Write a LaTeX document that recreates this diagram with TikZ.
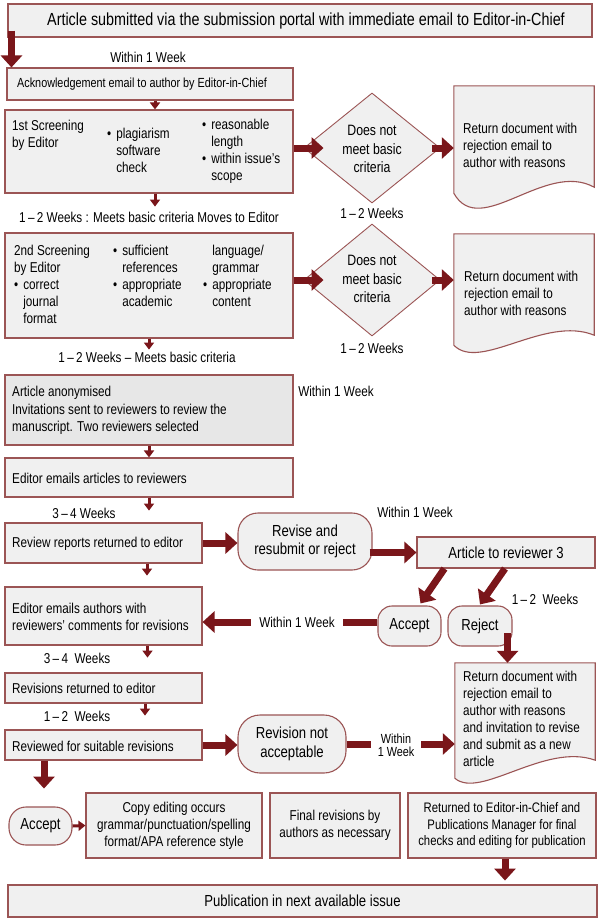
\documentclass[tikz,border=0pt]{standalone}
\usepackage{fontspec}
\setmainfont[FakeStretch=0.82]{Liberation Sans}
\usetikzlibrary{arrows.meta,shapes.geometric,calc}
\definecolor{bd}{RGB}{155,85,85}
\definecolor{ar}{RGB}{122,22,26}
\definecolor{bx}{RGB}{240,240,240}
\definecolor{bxd}{RGB}{231,231,231}
\newcommand\fzTitle{\fontsize{17.5pt}{21pt}\selectfont}
\newcommand\fzBox{\fontsize{14.3pt}{17pt}\selectfont}
\newcommand\fzAck{\fontsize{13.2pt}{16pt}\selectfont}
\newcommand\fzPill{\fontsize{16pt}{18.3pt}\selectfont}
\newcommand\fzDia{\fontsize{15pt}{18.5pt}\selectfont}
\newcommand\fzLab{\fontsize{14.3pt}{17pt}\selectfont}
\newcommand\fzTight{\fontsize{13.2pt}{13pt}\selectfont}
\newcommand\fzRet{\fontsize{13.8pt}{16.6pt}\selectfont}
\begin{document}
\begin{tikzpicture}[x=1pt,y=-1pt,
  box/.style={draw=bd, fill=bx, line width=1.1pt, inner sep=0pt, rectangle},
  pill/.style={box, rounded corners=#1},
  dia/.style={draw=bd, fill=bx, line width=0.9pt, diamond, inner sep=0pt},
  ghost/.style={inner sep=0pt, rectangle},
  txt/.style={inner sep=0pt, align=left, font=\fzBox},
  lab/.style={inner sep=0pt, font=\fzLab},
  bigarrow/.style={draw=ar, line width=7pt, -{Triangle[width=21pt,length=12pt]}},
  smallarrow/.style={draw=ar, line width=3pt, -{Triangle[width=10pt,length=7pt]}}]
\fill[white] (0,0) rectangle (600,922);
\useasboundingbox (0,0) rectangle (600,922);

% ---------- boxes ----------
\node[box, minimum width=584pt, minimum height=33pt] (title) at (300,20.5) {};
\node[inner sep=0pt, font=\fzTitle] (titlet) at (306,21) {Article submitted via the submission portal with immediate email to Editor-in-Chief};

\node[box, minimum width=286pt, minimum height=32pt] (ack) at (150,84) {};
\node[txt, font=\fzAck, anchor=west] (ackt) at (17,84) {Acknowledgement email to author by Editor-in-Chief};

\node[box, minimum width=288pt, minimum height=83pt] (s1) at (149,151.5) {};
\node[txt, anchor=west] (s1a) at (12,135) {1st Screening\\by Editor};
\node[txt, anchor=west] (s1b) at (107,152) {\begin{tabular}{@{}l@{\hspace{5pt}}l@{}}•&plagiarism\\&software\\&check\end{tabular}};
\node[txt, anchor=west] (s1c) at (202,152) {\begin{tabular}{@{}l@{\hspace{5pt}}l@{}}•&reasonable\\&length\\•&within issue’s\\&scope\end{tabular}};

\node[dia, minimum width=136pt, minimum height=110pt] (d1) at (372,148) {};
\node[inner sep=0pt, align=center, font=\fzDia] (d1t) at (372,149) {Does not\\meet basic\\criteria};

\node[ghost, minimum width=140pt, minimum height=107pt] (doc1) at (524,139.5) {};
\draw[box] (doc1.north west) -- (doc1.north east) -- ($(doc1.south east)+(0,-6)$)
  .. controls (545,160) and (480,240) .. (doc1.south west) -- cycle;
\node[txt, anchor=west] (doc1t) at (463,145) {Return document with\\rejection email to\\author with reasons};

\node[box, minimum width=288pt, minimum height=105pt] (s2) at (149,285.5) {};
\node[txt, anchor=west] (s2a) at (14,286) {\begin{tabular}{@{}l@{\hspace{5pt}}l@{}}\multicolumn{2}{@{}l@{}}{2nd Screening}\\\multicolumn{2}{@{}l@{}}{by Editor}\\•&correct\\&journal\\&format\end{tabular}};
\node[txt, anchor=west] (s2b) at (113,278) {\begin{tabular}{@{}l@{\hspace{5pt}}l@{}}•&sufficient\\&references\\•&appropriate\\&academic\end{tabular}};
\node[txt, anchor=west] (s2c) at (203,278) {\begin{tabular}{@{}l@{\hspace{5pt}}l@{}}&language/\\&grammar\\•&appropriate\\&content\end{tabular}};

\node[dia, minimum width=136pt, minimum height=112pt] (d2) at (372,280) {};
\node[inner sep=0pt, align=center, font=\fzDia] (d2t) at (372,279) {Does not\\meet basic\\criteria};

\node[ghost, minimum width=140pt, minimum height=111pt] (doc2) at (524,289.5) {};
\draw[box] (doc2.north west) -- (doc2.north east) -- ($(doc2.south east)+(0,-10)$)
  .. controls (545,315) and (480,372) .. (doc2.south west) -- cycle;
\node[txt, anchor=west] (doc2t) at (464,293) {Return document with\\rejection email to\\author with reasons};

\node[box, fill=bxd, minimum width=288pt, minimum height=70pt] (anon) at (149,410) {};
\node[txt, anchor=west, font=\fontsize{14.3pt}{17.5pt}\selectfont] (anont) at (12,410.5) {Article anonymised\\Invitations sent to reviewers to review the\\manuscript. Two reviewers selected};

\node[box, minimum width=288pt, minimum height=39pt] (emails) at (149,477.5) {};
\node[txt, anchor=west] (emailst) at (12,478) {Editor emails articles to reviewers};

\node[box, minimum width=197pt, minimum height=40pt] (review) at (103.5,543) {};
\node[txt, anchor=west] (reviewt) at (12,544) {Review reports returned to editor};

\node[pill=20pt, minimum width=134pt, minimum height=57pt, align=center, font=\fzPill] (p1) at (305,541.5) {Revise and\\resubmit or reject};

\node[box, minimum width=178pt, minimum height=31pt, font=\fzPill] (art3) at (506,552.5) {Article to reviewer 3};

\node[pill=14pt, minimum width=63pt, minimum height=40pt, font=\fzPill] (accept1) at (409.5,626) {Accept};
\node[pill=14pt, minimum width=64pt, minimum height=40pt, font=\fzPill] (reject) at (480,626) {Reject};

\node[box, minimum width=197pt, minimum height=58pt] (authors) at (103.5,616) {};
\node[txt, anchor=west] (authorst) at (12,616.5) {Editor emails authors with\\reviewers’ comments for revisions};

\node[box, minimum width=197pt, minimum height=30pt] (revret) at (103.5,688) {};
\node[txt, anchor=west] (revrett) at (12,688) {Revisions returned to editor};

\node[box, minimum width=197pt, minimum height=30pt] (reviewed) at (103.5,745) {};
\node[txt, anchor=west] (reviewedt) at (12,746) {Reviewed for suitable revisions};

\node[pill=22pt, minimum width=108pt, minimum height=58pt, align=center, font=\fzPill] (p2) at (292,744) {Revision not\\acceptable};

\node[ghost, minimum width=140pt, minimum height=115pt] (doc3) at (525,720.5) {};
\draw[box] (doc3.north west) -- (doc3.north east) -- ($(doc3.south east)+(0,-18)$)
  .. controls (545,742) and (480,800) .. (doc3.south west) -- cycle;
\node[txt, anchor=west] (doc3t) at (463,718.5) {Return document with\\rejection email to\\author with reasons\\and invitation to revise\\and submit as a new\\article};

\node[pill=17pt, minimum width=63pt, minimum height=38pt, font=\fzPill] (accept2) at (40.5,826) {Accept};
\node[box, minimum width=176pt, minimum height=65pt, align=center, font=\fzBox] (copy) at (174,825.5) {Copy editing occurs\\grammar/punctuation/spelling\\format/APA reference style};
\node[box, minimum width=130pt, minimum height=65pt, align=center, font=\fzBox] (final) at (335,825.5) {Final revisions by\\authors as necessary};
\node[box, minimum width=188pt, minimum height=65pt, align=center, font=\fzRet] (returned) at (502,825.5) {Returned to Editor-in-Chief and\\Publications Manager for final\\checks and editing for publication};
\node[box, minimum width=589pt, minimum height=32pt, font=\fzPill] (pub) at (302.5,901) {Publication in next available issue};

% ---------- connectors ----------
\draw[bigarrow] ($(title.south west)+(4,-7)$) -- ($(ack.north west)+(5,0)$);
\draw[smallarrow] ($(ack.south)+(5,0)$) -- ($(s1.north)+(6,0)$);
\draw[bigarrow] (s1.east |- d1.center) -- ($(d1.west)+(20,0)$);
\draw[bigarrow] ($(d1.east)+(-8,0)$) -- (d1.east -| doc1.west);
\draw[smallarrow] ($(s1.south)+(6,0)$) -- ($(s1.south)+(6,13)$);
\draw[bigarrow] (s2.east |- d2.center) -- ($(d2.west)+(20,0)$);
\draw[bigarrow] ($(d2.east)+(-8,0)$) -- (d2.east -| doc2.west);
\draw[smallarrow] (s2.south) -- ($(s2.south)+(0,11)$);
\draw[smallarrow] (anon.south) -- (emails.north);
\draw[smallarrow] (emails.south) -- ($(emails.south)+(0,13)$);
\draw[bigarrow] (review.east) -- (review.east -| p1.west);
\draw[bigarrow] ($(art3.west -| p1.east)+(-3,0)$) -- (art3.west);
\draw[smallarrow] ($(review.south)+(43.5,0)$) -- ($(review.south)+(43.5,12)$);
\draw[bigarrow] ($(art3.south west)+(28,0)$) -- ($(accept1.north)+(11,-2)$);
\draw[bigarrow] ($(art3.south)+(-1,0)$) -- ($(reject.north)+(0,-1)$);
\coordinate (acL) at ($(accept1.west)+(0,-4)$);
\draw[bigarrow] (acL) -- (acL -| authors.east);
\coordinate (rj) at ($(reject.east)+(-5,7)$);
\draw[bigarrow] (rj) -- (rj |- doc3.north);
\draw[smallarrow] ($(authors.south)+(44,0)$) -- ($(authors.south)+(44,12)$);
\draw[smallarrow] ($(revret.south)+(41.5,0)$) -- ($(revret.south)+(41.5,12)$);
\draw[bigarrow] (reviewed.east) -- (reviewed.east -| p2.west);
\draw[bigarrow] (p2.east) -- (p2.east -| doc3.west);
\draw[bigarrow] ($(reviewed.south)+(-59.5,0)$) -- ($(reviewed.south)+(-59.5,28)$);
\draw[smallarrow] (accept2.east) -- (copy.west);
\draw[bigarrow] ($(returned.south)+(3,0)$) -- ($(returned.south)+(3,22)$);

% ---------- labels ----------
\node[lab] (w1) at (148,57) {Within 1 Week};
\node[lab] (l2) at (149,217) {1\,–\,2 Weeks : Meets basic criteria Moves to Editor};
\node[lab] (l3) at (372,213) {1\,–\,2 Weeks};
\node[lab] (l4) at (372,348) {1\,–\,2 Weeks};
\node[lab] (l5) at (147,357) {1\,–\,2 Weeks – Meets basic criteria};
\node[lab] (l6) at (336,391) {Within 1 Week};
\node[lab] (l7) at (84,513) {3\,–\,4 Weeks};
\node[lab] (l8) at (415,512) {Within 1 Week};
\node[lab] (l9) at (545,599) {1\,–\,2\ \ Weeks};
\node[lab, fill=white, inner xsep=8pt, inner ysep=3pt] (l10) at (297,622) {Within 1 Week};
\node[lab] (l11) at (77,658) {3\,–\,4\ \ Weeks};
\node[lab] (l12) at (77,716) {1\,–\,2\ \ Weeks};
\node[lab, fill=white, align=center, font=\fzTight, inner xsep=7pt, inner ysep=3pt] (l13) at (396,745) {Within\\1 Week};
\end{tikzpicture}
\end{document}
